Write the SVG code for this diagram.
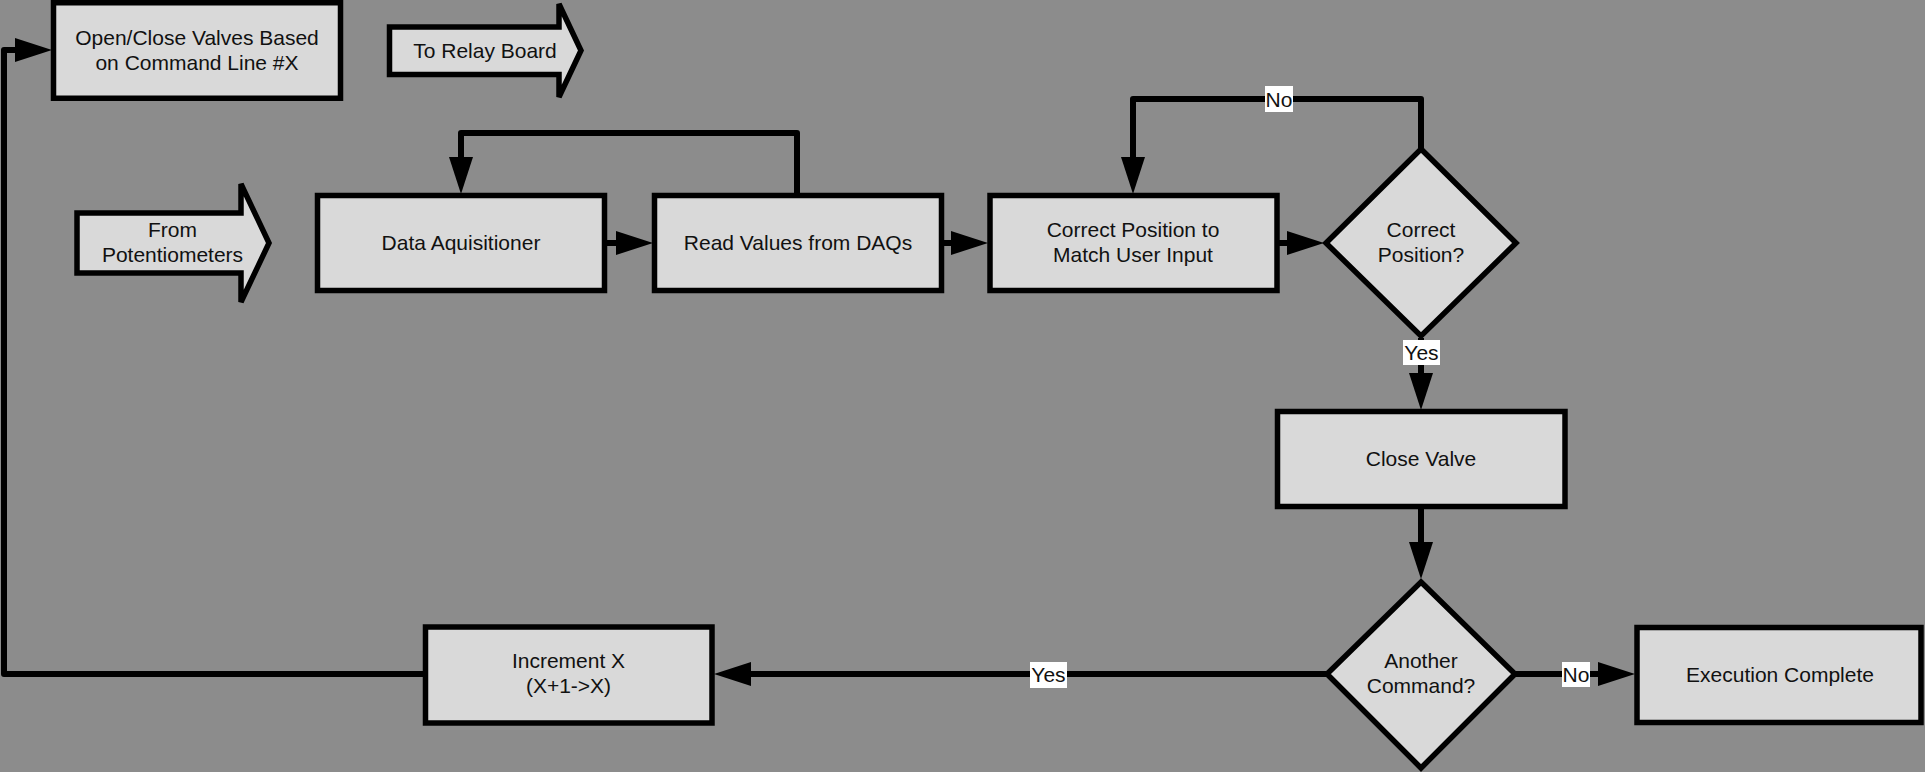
<svg xmlns="http://www.w3.org/2000/svg" width="1925" height="772" viewBox="0 0 1925 772">
<defs>
<style>
.box{fill:#d9d9d9;stroke:#000;stroke-width:5.5;stroke-linejoin:miter}
.t{font-family:"Liberation Sans",Arial,sans-serif;font-size:21px;fill:#111;text-anchor:middle}
.c{fill:none;stroke:#000;stroke-width:6;stroke-linejoin:round}
.lb{fill:#fff}
</style>
<marker id="ah" markerUnits="userSpaceOnUse" markerWidth="38" markerHeight="26" viewBox="0 0 38 26" refX="1" refY="13" orient="auto">
<path d="M0,1 L37,13 L0,25 z" fill="#000"/>
</marker>
</defs>
<rect width="1925" height="772" fill="#8c8c8c"/>
<g id="connectors">
<path class="c" d="M605,243 H617" marker-end="url(#ah)"/>
<path class="c" d="M942,243 H952" marker-end="url(#ah)"/>
<path class="c" d="M1277,243 H1288" marker-end="url(#ah)"/>
<path class="c" d="M797,194 V133 H461 V158" marker-end="url(#ah)"/>
<path class="c" d="M1421,148 V99 H1133 V158" marker-end="url(#ah)"/>
<path class="c" d="M1421,338 V374" marker-end="url(#ah)"/>
<path class="c" d="M1421,507 V543" marker-end="url(#ah)"/>
<path class="c" d="M1516,674 H1599" marker-end="url(#ah)"/>
<path class="c" d="M1326,674 H750" marker-end="url(#ah)"/>
<path class="c" d="M424,674 H4 V50 H16" marker-end="url(#ah)"/>
<rect class="lb" x="1265" y="86" width="28" height="26"/>
<text class="t" x="1279" y="106.5">No</text>
<rect class="lb" x="1403" y="340" width="37" height="25"/>
<text class="t" x="1421.5" y="360">Yes</text>
<rect class="lb" x="1562" y="662" width="28" height="25"/>
<text class="t" x="1576" y="681.5">No</text>
<rect class="lb" x="1030" y="662" width="37" height="26"/>
<text class="t" x="1048.5" y="682">Yes</text>
</g>
<g id="n-open">
<rect class="box" x="53.5" y="2.75" width="287" height="95.5"/>
<text class="t" x="197" y="45">Open/Close Valves Based</text>
<text class="t" x="197" y="70">on Command Line #X</text>
</g>
<g id="n-relay">
<path class="box" d="M389.5,27 H559 V4 L581,50.5 L559,97 V74.5 H389.5 Z"/>
<text class="t" x="485" y="57.5">To Relay Board</text>
</g>
<g id="n-pot">
<path class="box" d="M77,213 H241 V184 L269,243 L241,302 V273 H77 Z"/>
<text class="t" x="172.5" y="236.5">From</text>
<text class="t" x="172.5" y="261.5">Potentiometers</text>
</g>
<g id="n-daq">
<rect class="box" x="317.5" y="195.5" width="287" height="95"/>
<text class="t" x="461" y="250">Data Aquisitioner</text>
</g>
<g id="n-read">
<rect class="box" x="654.5" y="195.5" width="287" height="95"/>
<text class="t" x="798" y="250">Read Values from DAQs</text>
</g>
<g id="n-correct">
<rect class="box" x="990" y="195.5" width="287" height="95"/>
<text class="t" x="1133" y="236.5">Correct Position to</text>
<text class="t" x="1133" y="261.5">Match User Input</text>
</g>
<g id="n-dec1">
<path class="box" d="M1421,149 L1516,243 L1421,336 L1326,243 Z"/>
<text class="t" x="1421" y="236.5">Correct</text>
<text class="t" x="1421" y="261.5">Position?</text>
</g>
<g id="n-close">
<rect class="box" x="1277.5" y="411.5" width="287.5" height="95"/>
<text class="t" x="1421" y="466">Close Valve</text>
</g>
<g id="n-dec2">
<path class="box" d="M1421,582 L1515,674 L1421,768 L1327,674 Z"/>
<text class="t" x="1421" y="668">Another</text>
<text class="t" x="1421" y="693">Command?</text>
</g>
<g id="n-exec">
<rect class="box" x="1637" y="627.5" width="284" height="95"/>
<text class="t" x="1780" y="682">Execution Complete</text>
</g>
<g id="n-inc">
<rect class="box" x="425.5" y="627" width="286.5" height="96"/>
<text class="t" x="568.5" y="668">Increment X</text>
<text class="t" x="568.5" y="693">(X+1-&gt;X)</text>
</g>
</svg>
